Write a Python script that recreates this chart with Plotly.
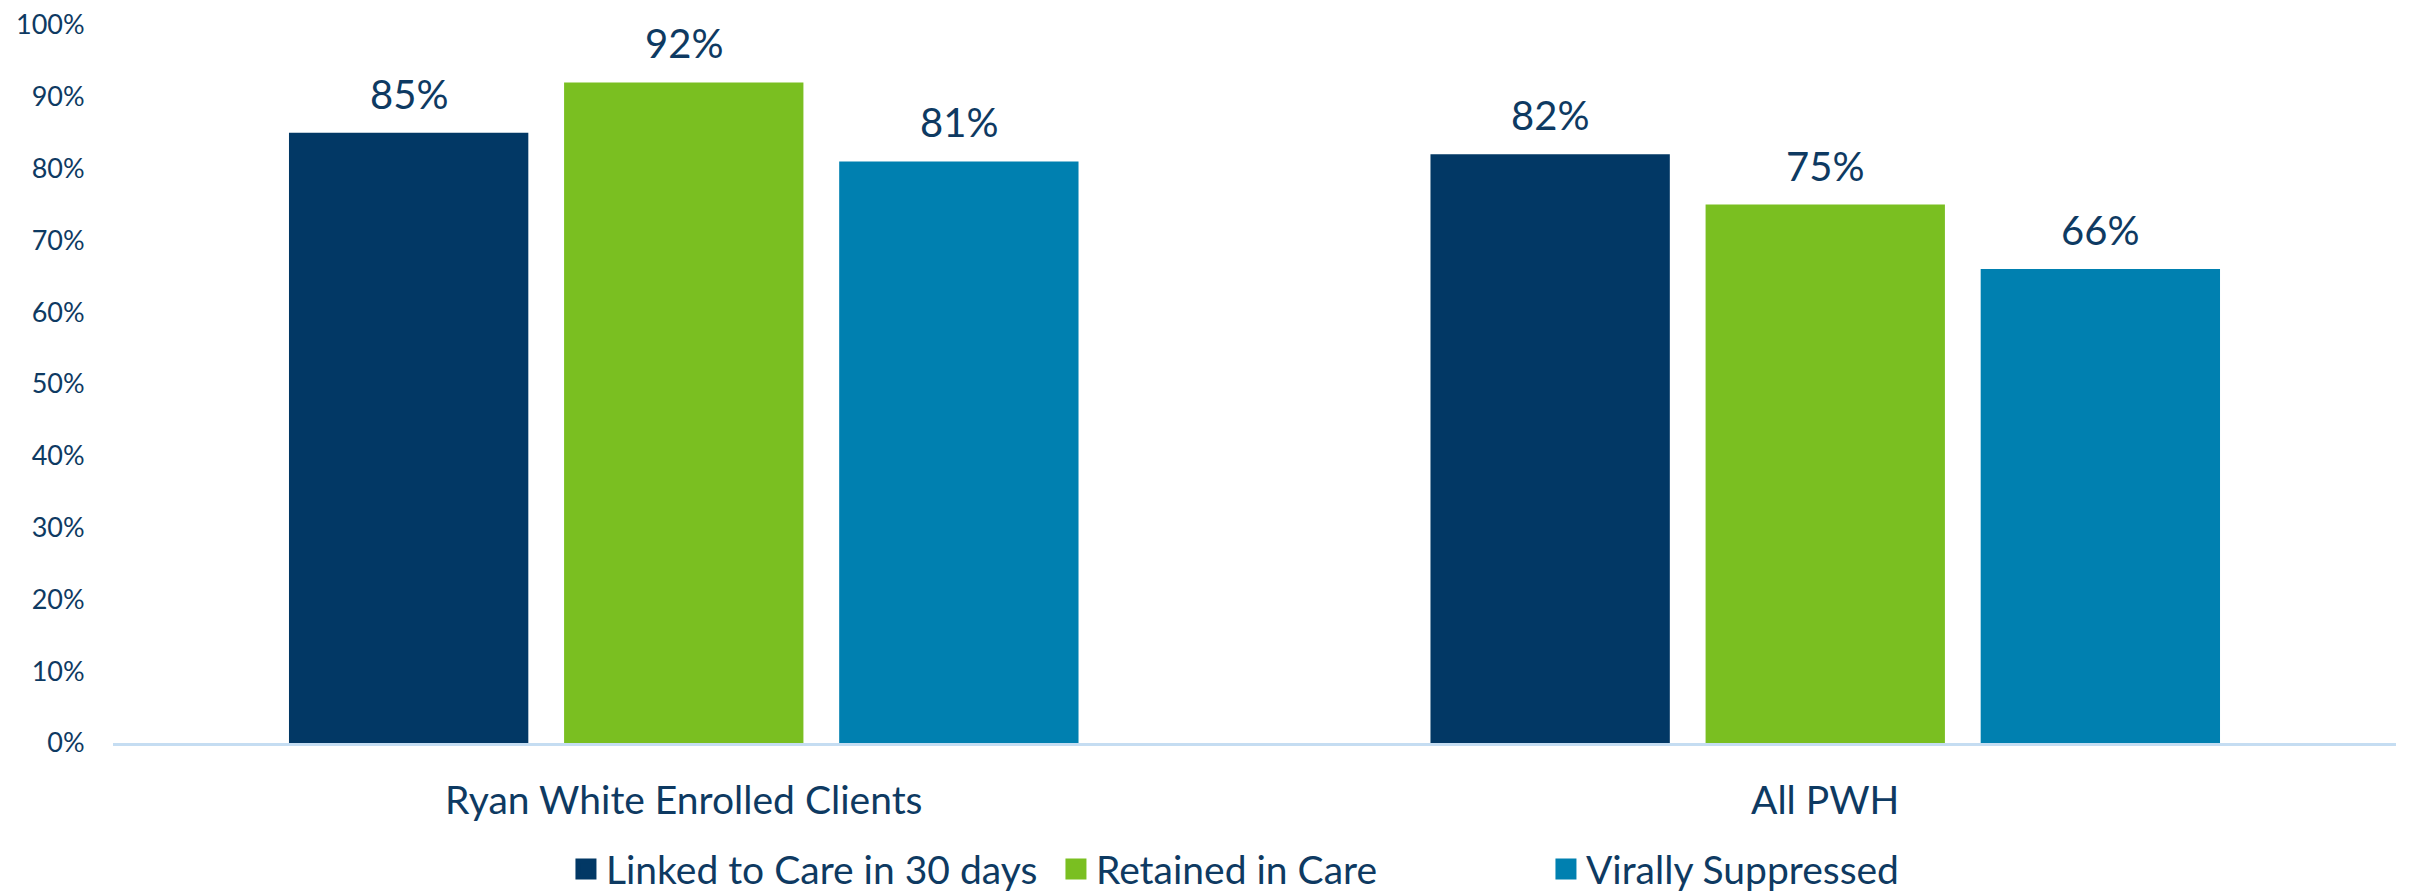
import plotly.graph_objects as go

# -------------------------------------------------------------------
# DATA
# -------------------------------------------------------------------
categories = ["Ryan White Enrolled Clients", "All PWH"]
series_names = ["Linked to Care in 30 days", "Retained in Care", "Virally Suppressed"]
linked = [85, 82]
retained = [92, 75]
suppressed = [81, 66]
y_ticks = [0, 10, 20, 30, 40, 50, 60, 70, 80, 90, 100]
y_tick_labels = ["0%", "10%", "20%", "30%", "40%", "50%", "60%", "70%", "80%", "90%", "100%"]

# -------------------------------------------------------------------
# STYLE
# -------------------------------------------------------------------
COLORS = ["#023865", "#7ABF21", "#0080B0"]
TEXT_COLOR = "#0E3A62"
FONT = "Lato"
BARGAP = 0.277
BARGROUPGAP = 0.13

# page body has an 8px margin, so the figure is sized to fit the window
FIG_W = 2405
FIG_H = 885

values = [linked, retained, suppressed]

fig = go.Figure()

for name, vals, color in zip(series_names, values, COLORS):
    fig.add_trace(
        go.Bar(
            x=categories,
            y=vals,
            name=name,
            marker=dict(color=color, line=dict(width=0)),
            showlegend=False,
            hoverinfo="x+y+name",
        )
    )
    # legend entry with a bigger square
    fig.add_trace(
        go.Scatter(
            x=[None],
            y=[None],
            mode="markers",
            name=name,
            marker=dict(symbol="square", size=16, color=color, line=dict(color=color, width=5)),
        )
    )

# value labels above bars
slot = (1 - BARGAP) / 3
annotations = []
for j, vals in enumerate(values):
    for i, v in enumerate(vals):
        annotations.append(
            dict(
                x=i + (j - 1) * slot,
                y=v,
                xref="x",
                yref="y",
                text=f"{v}%",
                showarrow=False,
                yanchor="bottom",
                yshift=13,
                font=dict(family=FONT, size=40, color=TEXT_COLOR),
            )
        )

fig.update_layout(
    width=FIG_W,
    height=FIG_H,
    barmode="group",
    bargap=BARGAP,
    bargroupgap=BARGROUPGAP,
    plot_bgcolor="white",
    paper_bgcolor="white",
    margin=dict(l=105, r=17, t=17, b=150, autoexpand=False),
    font=dict(family=FONT, color=TEXT_COLOR),
    xaxis=dict(
        type="category",
        range=[-0.5, 1.5],
        automargin=False,
        showline=True,
        linecolor="#C5DDF2",
        linewidth=3,
        showgrid=False,
        ticks="outside",
        ticklen=0,
        ticklabelstandoff=21,
        tickfont=dict(family=FONT, size=39, color=TEXT_COLOR),
    ),
    yaxis=dict(
        range=[0, 100],
        automargin=False,
        tickvals=y_ticks,
        ticktext=y_tick_labels,
        ticklabeloverflow="allow",
        showgrid=False,
        zeroline=False,
        showline=False,
        ticks="outside",
        ticklen=0,
        ticklabelstandoff=22,
        tickfont=dict(family=FONT, size=27, color=TEXT_COLOR),
    ),
    legend=dict(
        orientation="h",
        xref="container",
        yref="container",
        x=0.232,
        xanchor="left",
        y=0.027,
        yanchor="middle",
        font=dict(family=FONT, size=39, color=TEXT_COLOR),
        itemwidth=30,
        entrywidth=445,
        entrywidthmode="pixels",
        traceorder="normal",
    ),
    annotations=annotations,
)

fig.write_html("out.html")
